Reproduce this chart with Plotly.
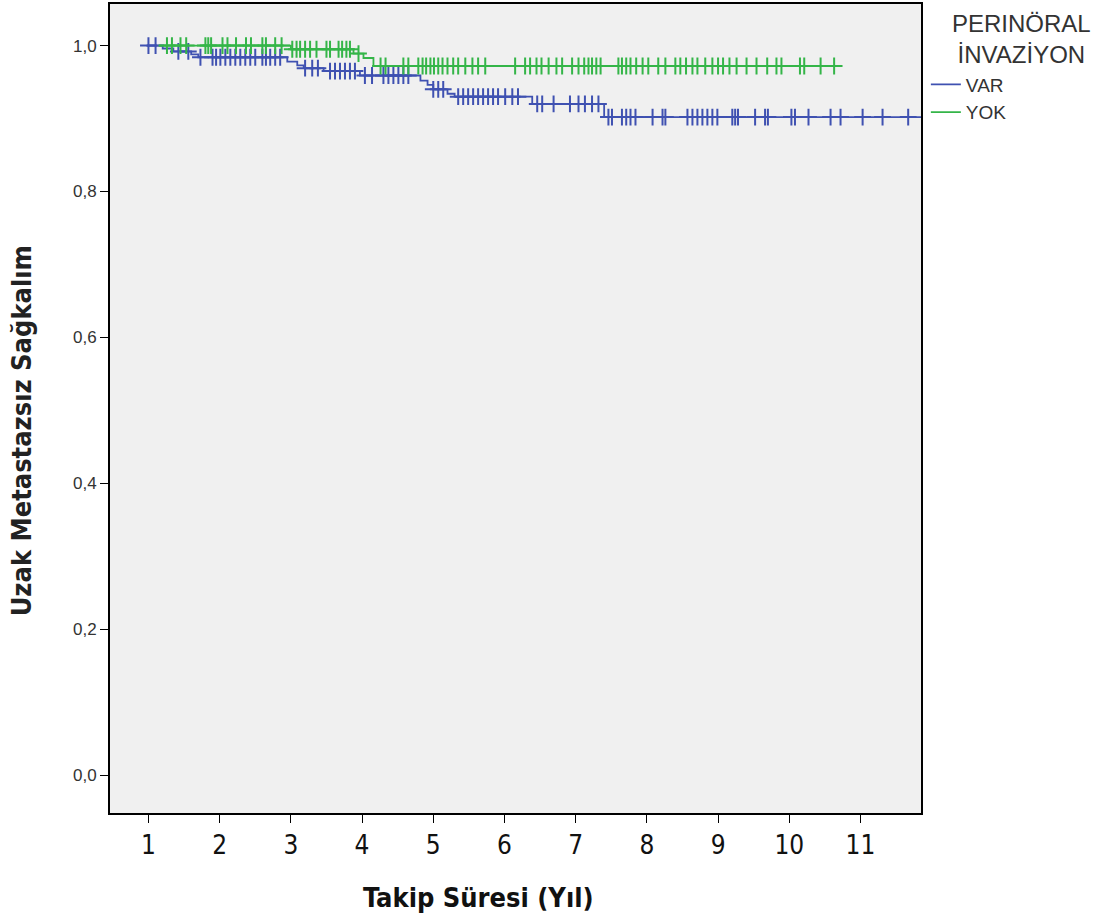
import numpy as np
import plotly.graph_objects as go

# ---- data (years, survival) ----
var_step_t = [0.97, 1.20, 1.35, 1.60, 1.70, 2.95, 3.09, 3.18, 3.46, 3.97, 4.82, 4.92, 5.00, 5.20, 5.30, 6.39, 7.40]
var_step_s = [1.000, 0.996, 0.992, 0.988, 0.984, 0.978, 0.973, 0.969, 0.965, 0.959, 0.952, 0.946, 0.940, 0.934, 0.930, 0.920, 0.902]
var_end_t = 11.9
var_censor_t = [1.00, 1.10, 1.42, 1.56, 1.73, 1.90, 1.95, 2.01, 2.08, 2.15, 2.22, 2.29, 2.36, 2.43,
                2.50, 2.60, 2.65, 2.71, 2.78, 2.85, 3.20, 3.30, 3.38, 3.55, 3.62, 3.69, 3.76, 3.83,
                3.90, 4.04, 4.14, 4.30, 4.37, 4.44, 4.51, 4.58, 4.65, 5.00, 5.07, 5.14, 5.35, 5.42,
                5.49, 5.56, 5.63, 5.70, 5.77, 5.84, 5.91, 6.01, 6.11, 6.19, 6.46, 6.53, 6.69, 6.92,
                7.04, 7.13, 7.23, 7.32, 7.46, 7.51, 7.65, 7.71, 7.77, 7.84, 8.08, 8.22, 8.26, 8.57,
                8.64, 8.71, 8.78, 8.85, 8.92, 8.99, 9.20, 9.24, 9.28, 9.52, 9.66, 9.70, 10.03, 10.08,
                10.27, 10.58, 10.72, 11.03, 11.31, 11.67]

yok_step_t = [1.15, 3.00, 3.88, 4.02, 4.16]
yok_step_s = [1.000, 0.995, 0.989, 0.983, 0.972]
yok_end_t = 10.72
yok_censor_t = [1.26, 1.33, 1.45, 1.53, 1.80, 1.84, 1.88, 2.04, 2.11, 2.23, 2.37, 2.44, 2.60, 2.65,
                2.78, 2.87, 3.02, 3.08, 3.13, 3.20, 3.27, 3.36, 3.50, 3.55, 3.67, 3.72, 3.78, 3.83,
                3.95, 4.26, 4.33, 4.58, 4.65, 4.79, 4.85, 4.90, 4.96, 5.01, 5.07, 5.13, 5.20, 5.28,
                5.35, 5.45, 5.55, 5.63, 5.73, 6.15, 6.29, 6.36, 6.45, 6.52, 6.62, 6.73, 6.81, 6.95,
                7.04, 7.12, 7.18, 7.23, 7.29, 7.35, 7.60, 7.65, 7.71, 7.77, 7.85, 7.94, 8.02, 8.16,
                8.26, 8.40, 8.47, 8.55, 8.64, 8.71, 8.82, 8.92, 9.00, 9.07, 9.16, 9.26, 9.40, 9.54,
                9.69, 9.82, 9.89, 10.15, 10.21, 10.44, 10.63]

x_ticks = [1, 2, 3, 4, 5, 6, 7, 8, 9, 10, 11]
y_ticks = [0.0, 0.2, 0.4, 0.6, 0.8, 1.0]
legend_title = "PERINÖRAL<br>İNVAZİYON"

groups = [
    ("VAR", var_step_t, var_step_s, var_end_t, var_censor_t, "#3f51b1"),
    ("YOK", yok_step_t, yok_step_s, yok_end_t, yok_censor_t, "#34b548"),
]

COND = "DejaVu Sans Condensed, Liberation Sans Narrow, Arial Narrow, sans-serif"

fig = go.Figure()
for name, st, ss, et, ct, col in groups:
    xs = list(st) + [et]
    ys = list(ss) + [ss[-1]]
    fig.add_trace(go.Scatter(x=xs, y=ys, mode="lines", line=dict(color=col, width=1.8, shape="hv"),
                             name=name, showlegend=True))
    idx = np.searchsorted(np.array(st), np.array(ct), side="right") - 1
    idx = np.clip(idx, 0, len(ss) - 1)
    cy = [ss[i] for i in idx]
    fig.add_trace(go.Scatter(x=ct, y=cy, mode="markers", showlegend=False,
                             marker=dict(symbol="cross-thin", size=12,
                                         line=dict(color=col, width=2))))

fig.update_layout(
    width=1117, height=921,
    margin=dict(l=110, r=196, t=2, b=108),
    paper_bgcolor="white", plot_bgcolor="#f0f0f0",
    separators=",.",
    font=dict(family="Arial, Liberation Sans, sans-serif", color="#333333"),
    legend=dict(
        x=1.006, y=0.924, xanchor="left", yanchor="top",
        font=dict(size=19, color="#333333"),
        bgcolor="rgba(0,0,0,0)", itemwidth=30, tracegroupgap=0,
    ),
    xaxis=dict(range=[0.46, 11.85], tickvals=x_ticks, ticktext=[str(v) for v in x_ticks],
               ticks="outside", ticklen=8, tickcolor="black", showgrid=False, zeroline=False,
               showline=True, linecolor="black", linewidth=1.8, mirror=True,
               tickfont=dict(size=26, family=COND, color="#111111")),
    yaxis=dict(range=[-0.052, 1.057], tickvals=y_ticks, tickformat=".1f",
               ticks="outside", ticklen=8, tickcolor="black", showgrid=False, zeroline=False,
               showline=True, linecolor="black", linewidth=1.8, mirror=True,
               tickfont=dict(size=17, color="#333333")),
)

fig.add_annotation(text=legend_title, xref="paper", yref="paper",
                   x=(1021 - 110) / 811, y=(813 - 6) / 811, xanchor="center", yanchor="top",
                   showarrow=False, align="center",
                   font=dict(size=24, color="#333333"))
fig.add_annotation(text="<b>Takip Süresi (Yıl)</b>", xref="paper", yref="paper",
                   x=(478 - 110) / 811, y=-0.105, xanchor="center", yanchor="middle", showarrow=False,
                   font=dict(size=27, family=COND, color="#111111"))
fig.add_annotation(text="<b>Uzak Metastazsız Sağkalım</b>", xref="paper", yref="paper",
                   x=-0.108, y=(813 - 430) / 811, xanchor="center", yanchor="middle", showarrow=False,
                   textangle=-90,
                   font=dict(size=27, family=COND, color="#222222"))

fig.write_html("out.html", post_script="document.body.style.margin='0px';",
               config={"displayModeBar": False})
